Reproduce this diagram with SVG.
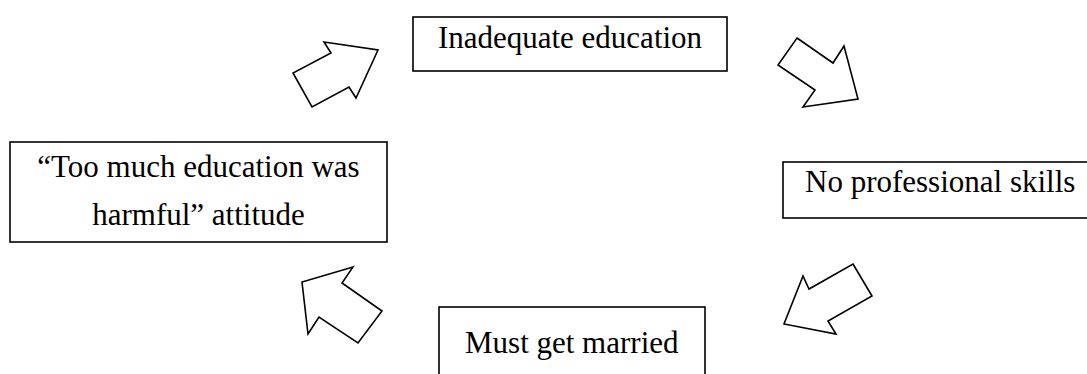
<svg xmlns="http://www.w3.org/2000/svg" width="1087" height="374" viewBox="0 0 1087 374">
<style>
.box{fill:#fff;stroke:#000;stroke-width:1.6}
.arr{fill:#fff;stroke:#000;stroke-width:1.6;stroke-linejoin:miter}
.t{font-family:"Liberation Serif",serif;font-size:31px;fill:#000}
</style>
<rect width="1087" height="374" fill="#fff"/>
<g id="connectors">
<polygon class="arr" points="324,42 331,53 293,73 312,107 349,87 356,98 378,50"/>
<polygon class="arr" points="797,38 833,63 844,46 858,99 803,107 815,90 778,65"/>
<polygon class="arr" points="853,264 872,296 828,321 836,334 784,324 803,276 809,289"/>
<polygon class="arr" points="353,267 302,282 308,334 319,317 358,343 382,311 342,283"/>
</g>
<g id="node-inadequate">
<rect class="box" x="413" y="17" width="314" height="54"/>
<text class="t" x="570" y="48" text-anchor="middle">Inadequate education</text>
</g>
<g id="node-skills">
<rect class="box" x="783" y="162" width="320" height="56"/>
<text class="t" x="805" y="192">No professional skills</text>
</g>
<g id="node-married">
<rect class="box" x="439" y="307" width="266" height="100"/>
<text class="t" x="465" y="353">Must get married</text>
</g>
<g id="node-attitude">
<rect class="box" x="10" y="142" width="377" height="100"/>
<text class="t" x="198.5" y="177" text-anchor="middle">“Too much education was</text>
<text class="t" x="198.5" y="225" text-anchor="middle">harmful” attitude</text>
</g>
</svg>
